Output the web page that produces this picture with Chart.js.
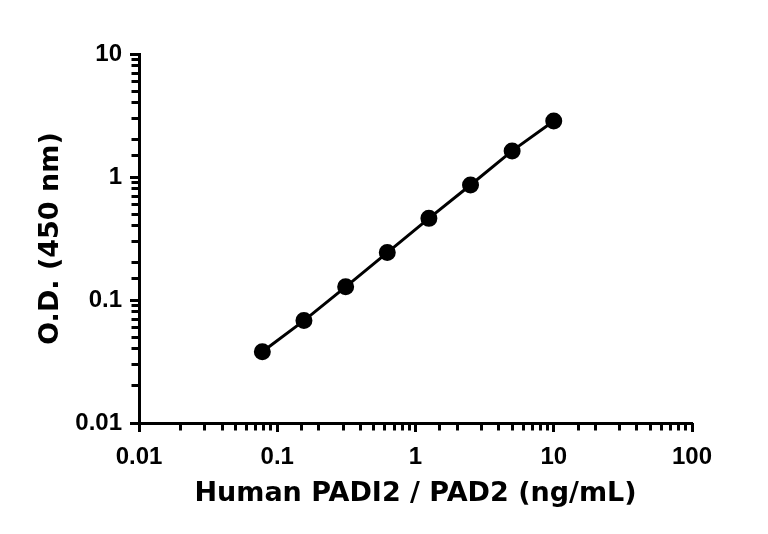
<!DOCTYPE html>
<html>
<head>
<meta charset="utf-8">
<script src="https://cdn.jsdelivr.net/npm/chart.js@4.4.1/dist/chart.umd.min.js"></script>
<style>
  html, body { margin: 0; padding: 0; background: #fff; }
  #wrap { width: 768px; height: 534px; }
</style>
</head>
<body>
<div id="wrap"><canvas id="curve"></canvas></div>
<script>
// standard curve readings
const concentration = [0.078, 0.156, 0.3125, 0.625, 1.25, 2.5, 5, 10];
const od = [0.038, 0.068, 0.128, 0.243, 0.461, 0.861, 1.63, 2.85];

const xTickValues = [0.01, 0.1, 1, 10, 100];
const xTickLabels = ['0.01', '0.1', '1', '10', '100'];
const yTickValues = [0.01, 0.1, 1, 10];
const yTickLabels = ['0.01', '0.1', '1', '10'];

const tickFont = { family: "'Liberation Sans Narrow', 'Liberation Sans', sans-serif", size: 24, weight: 'bold' };
const titleFont = { family: "'DejaVu Sans', sans-serif", size: 27, weight: 'bold' };

const points = concentration.map((c, i) => ({ x: c, y: od[i] }));

function majorOnly(values) {
    return function (scale) {
        scale.ticks = values.map(v => ({ value: v }));
    };
}

new Chart(document.getElementById('curve').getContext('2d'), {
    type: 'scatter',
    data: {
        datasets: [{
            data: points,
            showLine: true,
            borderColor: '#000',
            backgroundColor: '#000',
            borderWidth: 3,
            pointRadius: 7,
            pointHoverRadius: 7,
            tension: 0
        }]
    },
    options: {
        responsive: true,
        maintainAspectRatio: false,
        animation: false,
        events: [],
        layout: { padding: { top: 54, right: 76, bottom: 0, left: 0 } },
        plugins: {
            legend: { display: false },
            tooltip: { enabled: false }
        },
        scales: {
            x: {
                type: 'logarithmic',
                position: 'bottom',
                min: 0.01,
                max: 100,
                afterBuildTicks: majorOnly(xTickValues),
                afterFit: scale => { scale.height = 111; },
                border: { display: true, color: '#000', width: 3 },
                grid: { drawOnChartArea: false, color: '#000', tickLength: 9, tickWidth: 3 },
                ticks: {
                    color: '#000',
                    font: tickFont,
                    padding: 11,
                    autoSkip: false,
                    maxRotation: 0,
                    callback: (v, i) => xTickLabels[i]
                },
                title: {
                    display: true,
                    text: 'Human PADI2 / PAD2 (ng/mL)',
                    color: '#000',
                    font: titleFont,
                    padding: { top: 0, bottom: 24 }
                }
            },
            y: {
                type: 'logarithmic',
                position: 'left',
                min: 0.01,
                max: 10,
                afterBuildTicks: majorOnly(yTickValues),
                afterFit: scale => { scale.width = 139; },
                border: { display: true, color: '#000', width: 3 },
                grid: { drawOnChartArea: false, color: '#000', tickLength: 9, tickWidth: 3 },
                ticks: {
                    color: '#000',
                    font: tickFont,
                    padding: 8,
                    autoSkip: false,
                    callback: (v, i) => yTickLabels[i]
                },
                title: {
                    display: true,
                    text: 'O.D. (450 nm)',
                    color: '#000',
                    font: titleFont,
                    padding: { top: 35, bottom: 0 }
                }
            },
            // minor ticks only, laid over the main axes
            xMinor: {
                type: 'logarithmic',
                position: { y: 0.01 },
                min: 0.01,
                max: 100,
                border: { display: false },
                grid: { drawOnChartArea: false, color: '#000', tickLength: 7.5, tickWidth: 3 },
                ticks: { display: false, autoSkip: false }
            },
            yMinor: {
                type: 'logarithmic',
                position: { x: 0.01 },
                min: 0.01,
                max: 10,
                border: { display: false },
                grid: { drawOnChartArea: false, color: '#000', tickLength: 7.5, tickWidth: 3 },
                ticks: { display: false, autoSkip: false }
            }
        }
    }
});
</script>
</body>
</html>
